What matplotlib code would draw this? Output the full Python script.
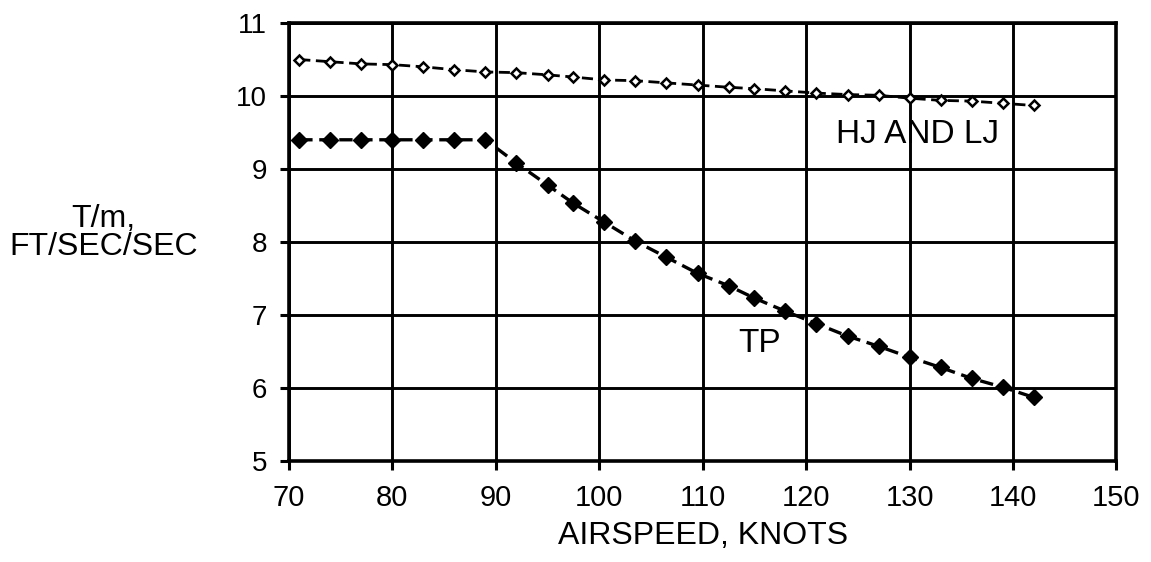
import matplotlib
matplotlib.use("Agg")
import matplotlib.pyplot as plt

plt.rcParams['font.family'] = ['Liberation Sans', 'DejaVu Sans']

# airspeed, knots (same points for both curves)
airspeed = [71, 74, 77, 80, 83, 86, 89, 92, 95, 97.5, 100.5, 103.5, 106.5,
            109.5, 112.5, 115, 118, 121, 124, 127, 130, 133, 136, 139, 142]

# thrust to mass, ft/sec/sec
hj_lj = [10.50, 10.47, 10.44, 10.43, 10.40, 10.36, 10.33, 10.32, 10.29, 10.26,
         10.22, 10.21, 10.18, 10.15, 10.12, 10.10, 10.07, 10.04, 10.02, 10.01,
         9.97, 9.94, 9.93, 9.90, 9.87]
tp = [9.40, 9.40, 9.40, 9.40, 9.40, 9.40, 9.40, 9.08, 8.78, 8.53, 8.27, 8.01,
      7.79, 7.57, 7.40, 7.23, 7.05, 6.88, 6.71, 6.57, 6.42, 6.28, 6.13, 6.01, 5.87]

x_ticks = [70, 80, 90, 100, 110, 120, 130, 140, 150]
y_ticks = [5, 6, 7, 8, 9, 10, 11]


def main():
    fig = plt.figure(figsize=(11.51, 5.62), dpi=100)
    ax = fig.add_axes([0.251, 0.180, 0.719, 0.779])

    ax.plot(airspeed, hj_lj, color="black", lw=2.0, dashes=(4, 2),
            marker="D", ms=5.5, mfc="white", mec="black", mew=1.8, zorder=3)
    ax.plot(airspeed, tp, color="black", lw=2.4, dashes=(4, 2),
            marker="D", ms=8, mfc="black", mec="black", zorder=3)

    ax.set_xlim(70, 150)
    ax.set_ylim(5, 11)
    ax.set_xticks(x_ticks)
    ax.set_yticks(y_ticks)
    ax.grid(True, color="black", lw=2.1)
    ax.set_axisbelow(True)
    for s in ax.spines.values():
        s.set_linewidth(2.6)

    ax.tick_params(axis="both", length=6.5, width=2.2, color="black")
    ax.tick_params(axis="y", pad=9, labelsize=20)
    ax.tick_params(axis="x", pad=10, labelsize=21)

    ax.text(130.8, 9.47, "HJ AND LJ", fontsize=24, ha="center", va="center")
    ax.text(115.5, 6.61, "TP", fontsize=24, ha="center", va="center")

    fig.text(0.090, 1 - 233 / 562, "T/m,\nFT/SEC/SEC", fontsize=23,
             ha="center", va="center", linespacing=0.95)
    fig.text(703 / 1151, 1 - 536 / 562, "AIRSPEED, KNOTS", fontsize=23,
             ha="center", va="center")

    fig.savefig("out.png", dpi=100)


if __name__ == '__main__':
    main()
